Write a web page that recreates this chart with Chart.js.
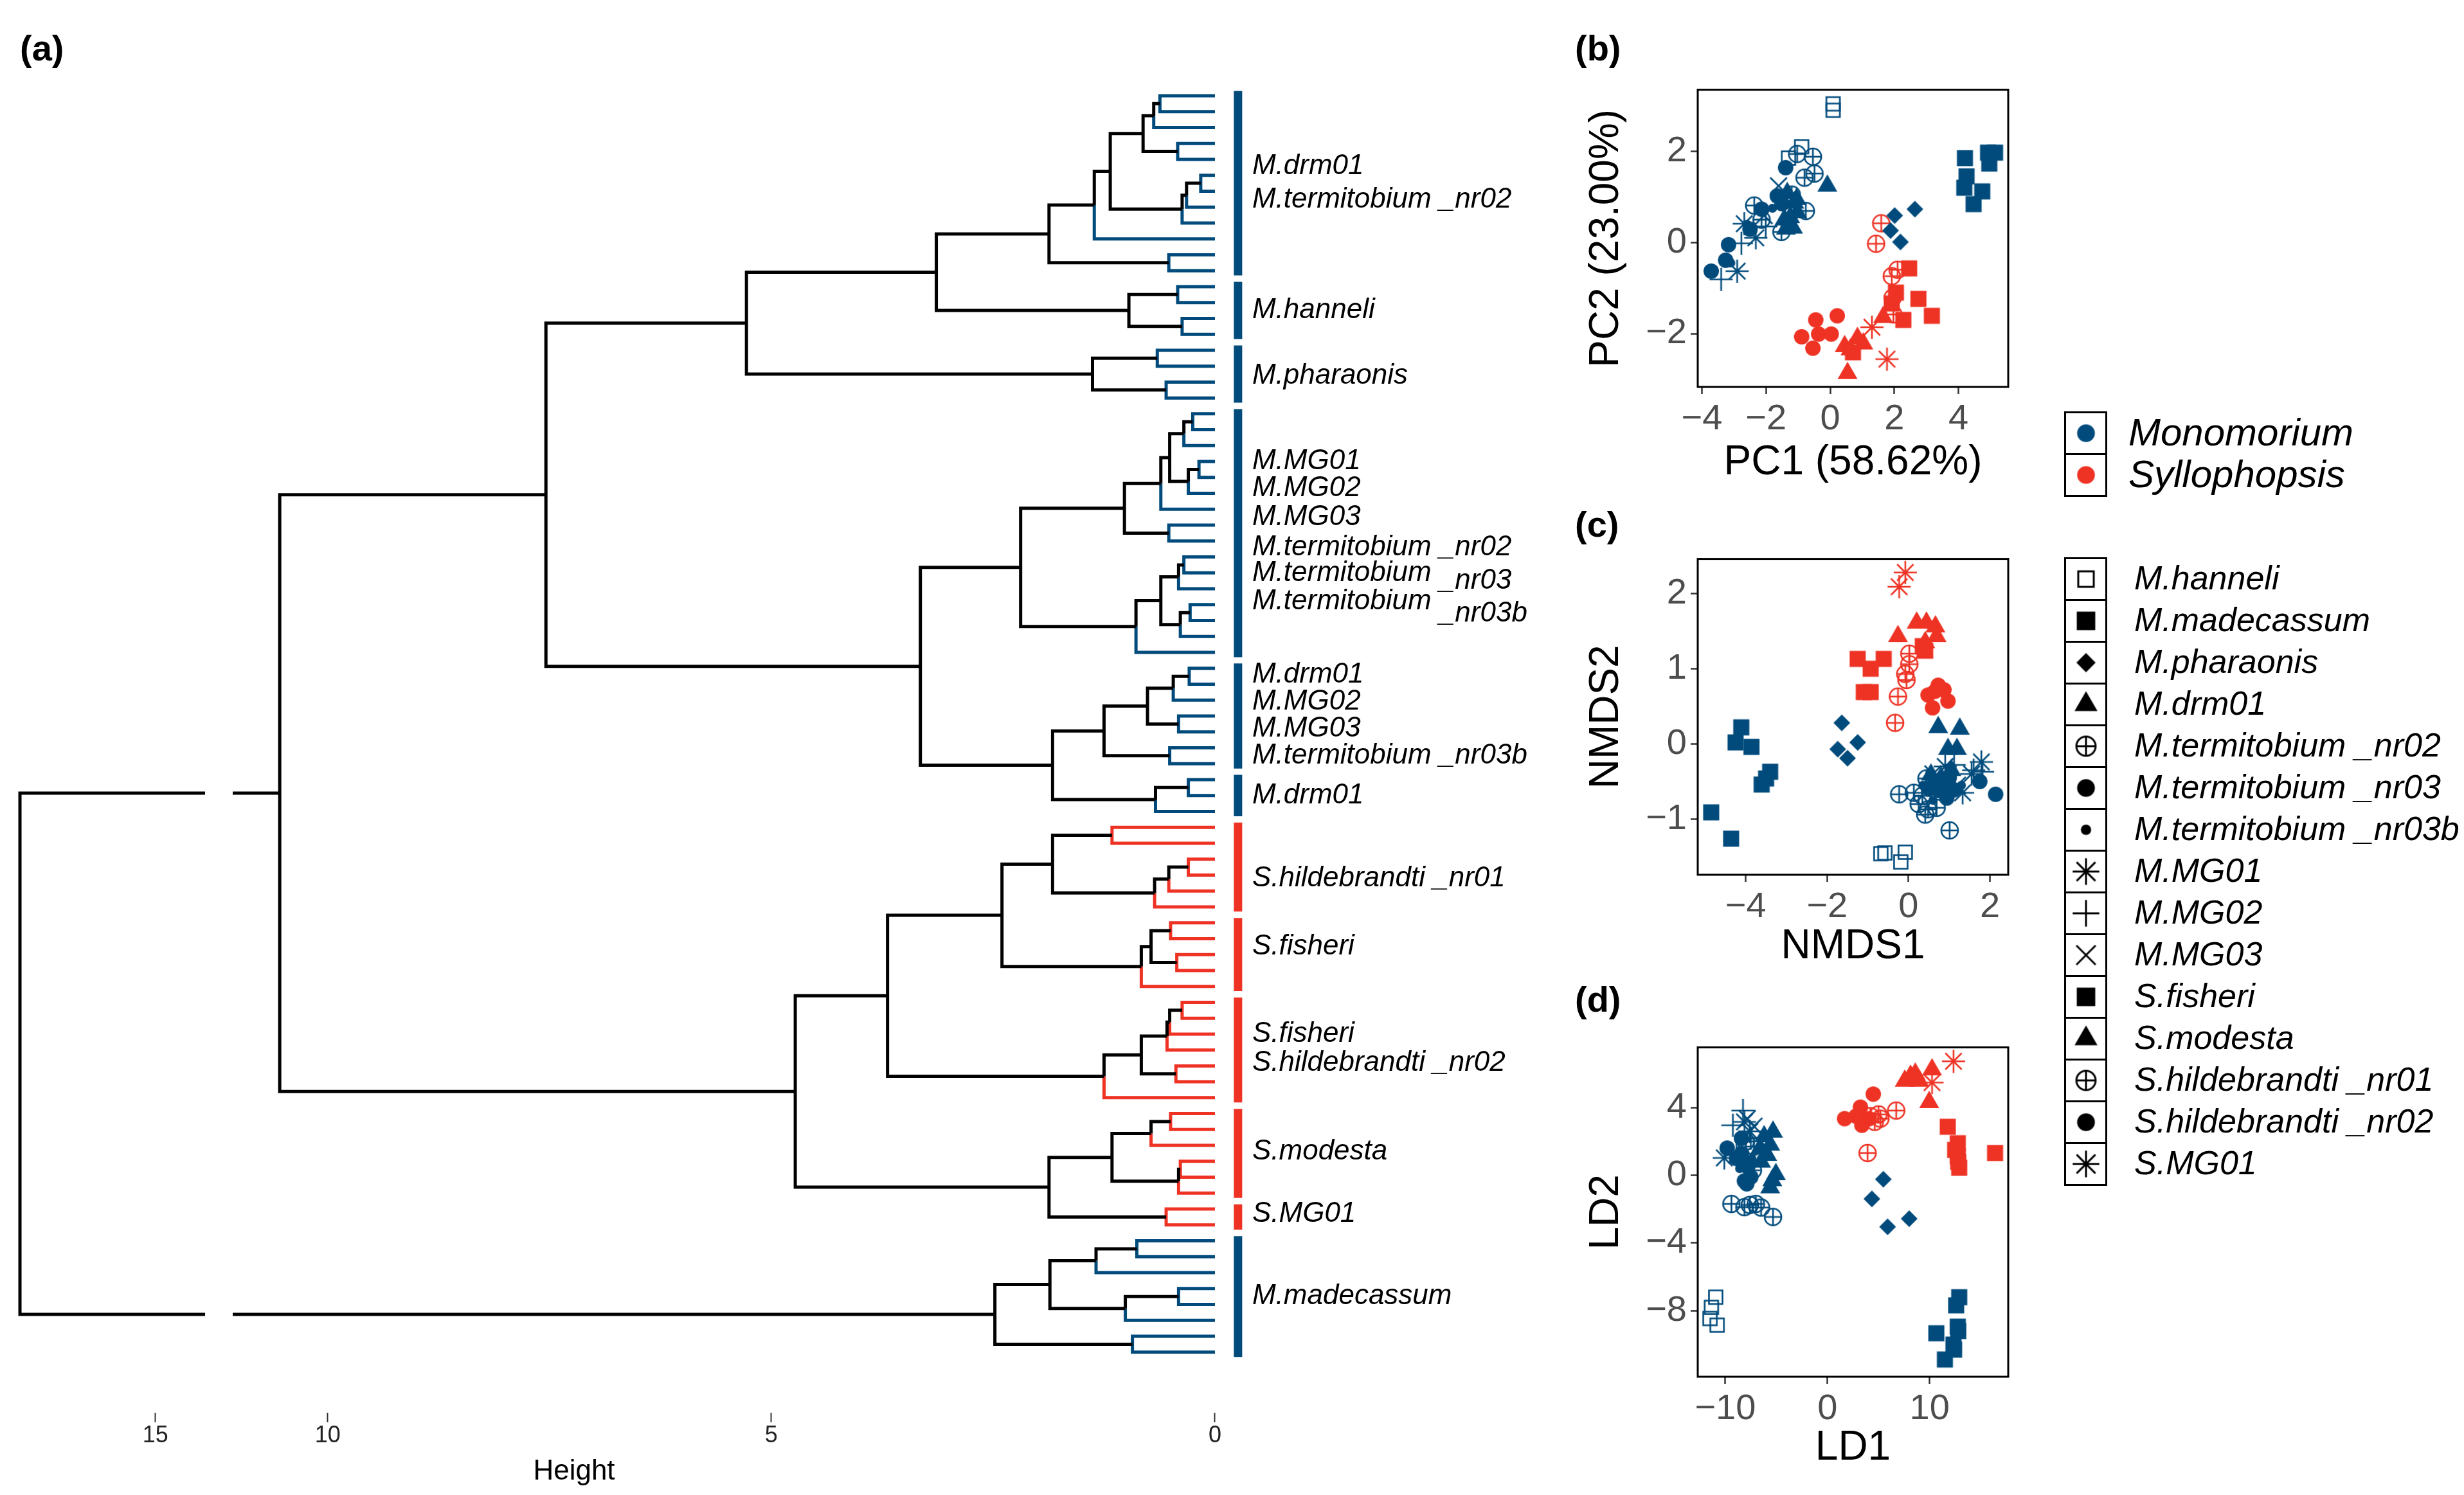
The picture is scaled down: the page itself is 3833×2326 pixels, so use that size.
<!DOCTYPE html>
<html>
<head>
<meta charset="utf-8">
<title>Monomorium / Syllophopsis</title>
<script src="https://cdn.jsdelivr.net/npm/chart.js@4.4.1/dist/chart.umd.min.js"></script>
<style>
  html, body { margin: 0; padding: 0; background: #fff; }
  body { position: relative; width: 3833px; height: 2326px; overflow: hidden; font-family: "Liberation Sans", Arial, sans-serif; color: #000; }
  canvas { position: absolute; }
  .tag { position: absolute; font-weight: bold; font-size: 56px; line-height: 56px; }
  .key { position: absolute; width: 67px; height: 68px; box-sizing: border-box; border: 3px solid #000; background: #fff; }
  .key canvas { left: 50%; top: 50%; transform: translate(-50%, -50%); }
  .lab { position: absolute; font-style: italic; white-space: pre; line-height: 65px; }
  #heightTitle { position: absolute; left: 793px; top: 2262px; width: 200px; text-align: center; font-size: 44px; line-height: 50px; }
</style>
</head>
<body>
<div class="tag" style="left:31px;top:47px">(a)</div>
<div class="tag" style="left:2450px;top:47px">(b)</div>
<div class="tag" style="left:2450px;top:788px">(c)</div>
<div class="tag" style="left:2450px;top:1527px">(d)</div>

<canvas id="dendro" width="2440" height="2326" style="left:0;top:0"></canvas>
<canvas id="pca" width="720" height="680" style="left:2440px;top:100px"></canvas>
<canvas id="nmds" width="720" height="700" style="left:2440px;top:830px"></canvas>
<canvas id="lda" width="720" height="736" style="left:2440px;top:1590px"></canvas>
<div id="heightTitle">Height</div>

<script>
// ---------------- species / groups ----------------
const speciesNames = ['M.hanneli', 'M.madecassum', 'M.pharaonis', 'M.drm01', 'M.termitobium _nr02',
  'M.termitobium _nr03', 'M.termitobium _nr03b', 'M.MG01', 'M.MG02', 'M.MG03', 'S.fisheri', 'S.modesta',
  'S.hildebrandti _nr01', 'S.hildebrandti _nr02', 'S.MG01'];
const speciesGenus = ['M', 'M', 'M', 'M', 'M', 'M', 'M', 'M', 'M', 'M', 'S', 'S', 'S', 'S', 'S'];
const genusKeys = ['M', 'S'];
const genusNames = ['Monomorium', 'Syllophopsis'];

// ---------------- (a) dendrogram, hclust style merge table ----------------
// negative = leaf number (1-based, in plotted order top to bottom), positive = earlier merge row
const mergeA = [-1, 1, -4, 2, -6, 5, 6, 4, 8, -11, 9, -13, -15, 12, -17, -19, 15, 11, 18,
  -21, 20, -24, 22, 21, 24, -28, 25, -30, 28, -33, 30, 29, 32, 27,
  -37, 35, -40, 36, -42, 38, -44, 41, 40, 34, 19,
  -47, -49, 47, 48, 46, -53, -55, 51, 53, 50, -58, 56, 57, -62, 58, 60, 55,
  -65, 63, -68, 65, 64, -71, 67, 62, 45,
  -73, 72, -76, 74, 73, -79, 76, 71];
const mergeB = [-2, -3, -5, 3, -7, -8, -9, 7, -10, -12, 10, -14, -16, 13, -18, -20, 16, 14, 17,
  -22, -23, -25, -26, 23, -27, -29, 26, -31, -32, -34, -35, 31, -36, 33,
  -38, -39, -41, 37, -43, 39, -45, -46, 42, 43, 44,
  -48, -50, -51, -52, 49, -54, -56, 52, -57, 54, -59, -60, -61, -63, 59, -64, 61,
  -66, -67, -69, -70, 66, -72, 68, 69, 70,
  -74, -75, -77, -78, 75, -80, 77, 78];
const mergeHeight = [0.62, 0.69, 0.42, 0.81, 0.16, 0.32, 0.37, 1.18, 1.36, 0.52, 1.87, 0.42, 0.37, 0.97,
  0.65, 0.55, 1.38, 3.14, 5.28,
  0.25, 0.35, 0.18, 0.30, 0.51, 0.61, 0.52, 1.02, 0.35, 0.41, 0.28, 0.39, 0.61, 0.89, 2.19,
  0.29, 0.47, 0.41, 0.76, 0.51, 1.25, 0.30, 0.67, 1.83, 3.32, 7.54,
  1.16, 0.30, 0.52, 0.68, 1.83, 0.50, 0.43, 0.72, 0.83, 2.40, 0.37, 0.51, 0.54, 0.44, 0.83, 1.25, 3.69,
  0.50, 0.72, 0.39, 0.41, 1.16, 0.55, 1.87, 4.73, 10.54,
  0.88, 1.34, 0.41, 1.01, 1.86, 0.93, 2.48, 16.53];
const leafGenus = 'M'.repeat(46) + 'S'.repeat(26) + 'M'.repeat(8);

// clades marked by the coloured bars (first / last leaf, 0-based)
const cladeFirstLeaf = [0, 12, 16, 20, 36, 43, 46, 52, 57, 64, 70, 72];
const cladeLastLeaf = [11, 15, 19, 35, 42, 45, 51, 56, 63, 69, 71, 79];

// clade labels and the leaf position they sit at
const cladeLabels = ['M.drm01', 'M.termitobium _nr02', 'M.hanneli', 'M.pharaonis',
  'M.MG01', 'M.MG02', 'M.MG03', 'M.termitobium _nr02', 'M.termitobium _nr03', 'M.termitobium _nr03b',
  'M.drm01', 'M.MG02', 'M.MG03', 'M.termitobium _nr03b', 'M.drm01',
  'S.hildebrandti _nr01', 'S.fisheri', 'S.fisheri', 'S.hildebrandti _nr02', 'S.modesta', 'S.MG01', 'M.madecassum'];
const cladeLabelAt = [4.44, 6.53, 13.5, 17.6, 23.0, 24.7, 26.5, 28.4, 30.0, 31.8,
  36.4, 38.1, 39.8, 41.5, 44.0, 49.2, 53.5, 59.0, 60.8, 66.4, 70.3, 75.5];
const suffixDrop = [0, 0, 0, 0, 0, 0, 0, 0, 0.5, 0.75, 0, 0, 0, 0, 0, 0, 0, 0, 0, 0, 0, 0];

// broken height axis
const heightTicksLeft = [15];
const heightTicksRight = [10, 5, 0];
const heightBreak = [11.07, 14.44];
const heightLeftMax = 16.61;
const heightRightMin = -3.84;
const leafAxisMin = -1.98;
const leafAxisMax = 82.8;

// ---------------- (b) PCA: [species, PC1, PC2] ----------------
const pcaPoints = [
  [0, 0.09, 3.04], [0, 0.09, 2.90], [0, -0.89, 2.10], [0, -1.30, 1.85],
  [1, 4.20, 1.85], [1, 4.25, 1.45], [1, 4.18, 1.20], [1, 4.74, 1.12], [1, 4.47, 0.84], [1, 4.92, 1.97], [1, 5.14, 1.97], [1, 4.96, 1.73],
  [2, 2.01, 0.59], [2, 2.64, 0.73], [2, 1.88, 0.26], [2, 2.19, 0.01],
  [3, -0.09, 1.24], [3, -1.34, 1.08], [3, -1.12, 0.87], [3, -1.03, 0.66], [3, -1.43, 0.50], [3, -1.16, 0.32], [3, -1.25, 0.55], [3, -1.05, 0.95], [3, -1.38, 0.30],
  [4, -1.03, 1.94], [4, -0.54, 1.88], [4, -0.49, 1.51], [4, -0.80, 1.42], [4, -2.37, 0.81], [4, -2.14, 0.50], [4, -0.76, 0.69], [4, -1.52, 0.23], [4, -1.20, 1.05],
  [5, -1.39, 1.64], [5, -1.65, 1.02], [5, -2.14, 0.73], [5, -2.50, 0.29], [5, -3.17, -0.05], [5, -3.26, -0.39], [5, -3.71, -0.63], [5, -1.50, 0.85],
  [6, -1.80, 0.75], [6, -2.60, 0.40], [6, -3.10, -0.45],
  [7, -2.68, 0.41], [7, -2.32, 0.10], [7, -2.90, -0.63], [7, -1.45, 0.90],
  [8, -3.40, -0.81], [8, -2.77, -0.02], [8, -2.01, 0.35],
  [9, -1.61, 1.24], [9, -2.06, 0.59],
  [10, 2.46, -0.57], [10, 2.75, -1.24], [10, 3.17, -1.61], [10, 2.28, -1.70], [10, 1.92, -1.34], [10, 0.71, -2.41], [10, 2.05, -1.10],
  [11, 0.54, -2.87], [11, 0.85, -2.10], [11, 0.45, -2.28], [11, 0.63, -2.35], [11, 1.65, -1.64], [11, 1.03, -2.22],
  [12, 1.59, 0.42], [12, 1.43, -0.03], [12, 1.92, -0.74], [12, 2.10, -0.60], [12, 1.95, -1.21], [12, 1.97, -1.58],
  [13, 0.22, -1.61], [13, -0.45, -1.70], [13, -0.89, -2.07], [13, -0.36, -2.01], [13, 0.03, -2.01], [13, -0.54, -2.32],
  [14, 1.30, -1.86], [14, 1.77, -2.56]
];
const pcaXTicks = [-4, -2, 0, 2, 4];
const pcaYTicks = [-2, 0, 2];

// ---------------- (c) NMDS: [species, NMDS1, NMDS2] ----------------
const nmdsPoints = [
  [0, -0.68, -1.46], [0, -0.58, -1.45], [0, -0.08, -1.44], [0, -0.19, -1.57],
  [1, -4.11, 0.22], [1, -4.25, 0.02], [1, -3.86, -0.04], [1, -3.40, -0.37], [1, -3.50, -0.46], [1, -3.61, -0.54], [1, -4.85, -0.91], [1, -4.36, -1.26],
  [2, -1.64, 0.28], [2, -1.25, 0.02], [2, -1.74, -0.07], [2, -1.50, -0.19],
  [3, 0.73, 0.22], [3, 1.26, 0.20], [3, 0.97, -0.07], [3, 1.19, -0.07], [3, 0.55, -0.41], [3, 0.62, -0.50], [3, 0.90, -0.55], [3, 1.05, -0.35], [3, 0.80, -0.45],
  [4, -0.23, -0.67], [4, 0.13, -0.65], [4, 0.44, -0.46], [4, 0.34, -0.69], [4, 0.48, -0.87], [4, 0.41, -0.94], [4, 0.69, -0.85], [4, 1.01, -1.15], [4, 0.25, -0.80],
  [5, 0.87, -0.52], [5, 1.75, -0.50], [5, 2.14, -0.67], [5, 0.94, -0.72], [5, 1.12, -0.61], [5, 0.50, -0.60], [5, 1.00, -0.45], [5, 0.75, -0.62],
  [6, 0.60, -0.75], [6, 1.30, -0.55], [6, 0.35, -0.55],
  [7, 1.79, -0.24], [7, 1.33, -0.65], [7, 1.55, -0.40], [7, 0.90, -0.30],
  [8, 1.12, -0.28], [8, 1.82, -0.37], [8, 1.60, -0.35],
  [9, 1.20, -0.55], [9, 0.60, -0.40],
  [10, -1.25, 1.13], [10, -0.61, 1.13], [10, -0.93, 1.00], [10, -0.93, 0.69], [10, -1.10, 0.69], [10, 0.41, 1.24], [10, 0.35, 1.30],
  [11, -0.26, 1.43], [11, 0.20, 1.61], [11, 0.44, 1.61], [11, 0.66, 1.56], [11, 0.69, 1.43], [11, 0.41, 1.35],
  [12, 0.02, 1.20], [12, 0.02, 1.06], [12, -0.08, 0.93], [12, -0.05, 0.85], [12, -0.26, 0.63], [12, -0.33, 0.28],
  [13, 0.48, 0.65], [13, 0.73, 0.78], [13, 0.87, 0.72], [13, 0.97, 0.57], [13, 0.59, 0.48], [13, 0.65, 0.70],
  [14, -0.08, 2.28], [14, -0.23, 2.09]
];
const nmdsXTicks = [-4, -2, 0, 2];
const nmdsYTicks = [-1, 0, 1, 2];

// ---------------- (d) LDA: [species, LD1, LD2] ----------------
const ldaPoints = [
  [0, -10.94, -7.20], [0, -11.36, -7.80], [0, -11.50, -8.46], [0, -10.80, -8.85],
  [1, 12.90, -7.20], [1, 12.60, -7.68], [1, 12.76, -8.94], [1, 10.66, -9.33], [1, 12.34, -10.00], [1, 11.50, -10.88], [1, 12.80, -9.20], [1, 12.40, -10.30],
  [2, 5.47, -0.23], [2, 4.35, -1.39], [2, 5.89, -3.04], [2, 8.00, -2.56],
  [3, -5.33, 2.57], [3, -5.60, 1.80], [3, -5.05, 0.06], [3, -5.61, -0.72], [3, -6.20, 2.30], [3, -5.90, 1.20], [3, -6.50, 0.80], [3, -5.40, -0.30], [3, -6.60, 1.60],
  [4, -9.40, -1.69], [4, -8.13, -1.88], [4, -7.01, -1.69], [4, -5.33, -2.46], [4, -7.60, -1.75], [4, -6.50, -1.90], [4, -7.30, 0.30], [4, -8.00, 2.00], [4, -7.20, 1.70],
  [5, -9.82, 1.61], [5, -8.42, 2.19], [5, -8.13, -0.33], [5, -7.80, 0.50], [5, -8.40, 1.30], [5, -7.50, -0.10], [5, -8.90, 1.00], [5, -7.90, -0.50],
  [6, -8.00, 0.90], [6, -7.40, 1.00], [6, -8.60, 0.40],
  [7, -10.10, 1.03], [7, -8.13, 3.16], [7, -7.60, 2.60], [7, -8.90, 1.20],
  [8, -8.27, 3.83], [8, -9.26, 2.96], [8, -7.50, 2.20],
  [9, -7.85, 3.35], [9, -7.20, 2.90],
  [10, 11.78, 2.87], [10, 12.76, 1.90], [10, 12.76, 1.12], [10, 12.90, 0.45], [10, 16.41, 1.32], [10, 12.50, 1.50], [10, 12.80, 0.80],
  [11, 8.13, 5.87], [11, 10.24, 6.25], [11, 9.96, 4.32], [11, 7.57, 5.58], [11, 8.98, 5.58], [11, 8.60, 6.00],
  [12, 6.73, 3.83], [12, 5.19, 3.35], [12, 4.63, 3.16], [12, 4.20, 3.50], [12, 3.93, 1.32], [12, 5.00, 3.60],
  [13, 4.49, 4.80], [13, 3.23, 4.03], [13, 1.68, 3.35], [13, 3.37, 2.96], [13, 4.07, 3.35], [13, 2.80, 3.50],
  [14, 12.34, 6.74], [14, 10.24, 5.48]
];
const ldaXTicks = [-10, 0, 10];
const ldaYTicks = [-8, -4, 0, 4];

// ---------------- styles ----------------
const genusColors = { M: '#004b7c', S: '#ee3224' };
const speciesShape = ['openSquare', 'square', 'diamond', 'triangle', 'circlePlus', 'circle', 'dot',
  'asterisk', 'plus', 'cross', 'square', 'triangle', 'circlePlus', 'circle', 'asterisk'];
const FONT = '"Liberation Sans", Arial, sans-serif';
Chart.defaults.font.family = FONT;

// ggplot-like point symbols drawn into small canvases, used as pointStyle
function makeSymbol(shape, color, k) {
  const size = Math.ceil(46 * k);
  const c = document.createElement('canvas');
  c.width = c.height = size;
  const g = c.getContext('2d');
  const m = size / 2;
  g.fillStyle = color;
  g.strokeStyle = color;
  g.lineWidth = 2.6 * k;
  const line = (x1, y1, x2, y2) => { g.beginPath(); g.moveTo(m + x1, m + y1); g.lineTo(m + x2, m + y2); g.stroke(); };
  if (shape === 'openSquare') {
    const s = 21 * k; g.strokeRect(m - s / 2, m - s / 2, s, s);
  } else if (shape === 'square') {
    const s = 25 * k; g.fillRect(m - s / 2, m - s / 2, s, s);
  } else if (shape === 'diamond') {
    const r = 13 * k;
    g.beginPath(); g.moveTo(m, m - r); g.lineTo(m + r, m); g.lineTo(m, m + r); g.lineTo(m - r, m); g.closePath(); g.fill();
  } else if (shape === 'triangle') {
    const s = 31 * k, h = s * 0.866;
    g.beginPath(); g.moveTo(m, m - h * 2 / 3); g.lineTo(m + s / 2, m + h / 3); g.lineTo(m - s / 2, m + h / 3); g.closePath(); g.fill();
  } else if (shape === 'circle') {
    g.beginPath(); g.arc(m, m, 12 * k, 0, 2 * Math.PI); g.fill();
  } else if (shape === 'dot') {
    g.beginPath(); g.arc(m, m, 7 * k, 0, 2 * Math.PI); g.fill();
  } else if (shape === 'circlePlus') {
    const r = 13 * k;
    g.beginPath(); g.arc(m, m, r, 0, 2 * Math.PI); g.stroke();
    line(-r, 0, r, 0); line(0, -r, 0, r);
  } else if (shape === 'asterisk') {
    const r = 18 * k, d = r * 0.7071;
    line(-r, 0, r, 0); line(0, -r, 0, r); line(-d, -d, d, d); line(-d, d, d, -d);
  } else if (shape === 'plus') {
    const r = 18 * k;
    line(-r, 0, r, 0); line(0, -r, 0, r);
  } else if (shape === 'cross') {
    const d = 13 * k;
    line(-d, -d, d, d); line(-d, d, d, -d);
  }
  return c;
}

// ---------------- (a) build the dendrogram paths ----------------
const nodeY = [];
const paths = { black: [], blackLeft: [], M: [], S: [] };
const GAP = { x: null, y: null };

function childOf(r) {
  return r < 0 ? { y: -r - 1, h: 0, leaf: -r - 1 } : { y: nodeY[r - 1], h: mergeHeight[r - 1], leaf: -1 };
}
function addEdge(hp, yp, c) {
  const key = c.leaf >= 0 ? leafGenus[c.leaf] : 'black';
  if (hp > heightBreak[1] && c.h < heightBreak[0]) {
    paths.blackLeft.push({ x: hp, y: yp }, { x: hp, y: c.y }, { x: heightBreak[1], y: c.y }, GAP);
    paths[key].push({ x: heightBreak[0], y: c.y }, { x: c.h, y: c.y }, GAP);
  } else {
    paths[key].push({ x: hp, y: yp }, { x: hp, y: c.y }, { x: c.h, y: c.y }, GAP);
  }
}
mergeA.forEach((a, i) => {
  const A = childOf(a), B = childOf(mergeB[i]);
  nodeY[i] = (A.y + B.y) / 2;
  addEdge(mergeHeight[i], nodeY[i], A);
  addEdge(mergeHeight[i], nodeY[i], B);
});

const barX = -0.26, barOverhang = 0.3, labelX = -0.42;
const bars = { M: [], S: [] };
cladeFirstLeaf.forEach((f, i) => {
  bars[leafGenus[f]].push({ x: barX, y: f - barOverhang }, { x: barX, y: cladeLastLeaf[i] + barOverhang }, GAP);
});

function pathSet(data, color, axis, width) {
  return {
    data, xAxisID: axis, yAxisID: 'y', showLine: true, spanGaps: false,
    borderColor: color, borderWidth: width, pointRadius: 0, tension: 0,
    borderJoinStyle: 'miter', borderCapStyle: 'butt'
  };
}

function heightAxis(weight, stackWeight, min, max, ticks) {
  return {
    type: 'linear', axis: 'x', position: 'bottom', stack: 'height', stackWeight, weight,
    reverse: true, min, max,
    afterBuildTicks: s => { s.ticks = ticks.map(v => ({ value: v })); },
    grid: { display: true, drawOnChartArea: false, drawTicks: true, tickLength: 15, tickWidth: 2, tickColor: '#333' },
    border: { display: false },
    ticks: { font: { size: 36 }, color: '#222', padding: 0, autoSkip: false, maxRotation: 0 }
  };
}

const cladeLabelPlugin = {
  id: 'cladeLabels',
  afterDatasetsDraw(chart) {
    const ctx = chart.ctx, xs = chart.scales.xR, ys = chart.scales.y;
    const x0 = xs.getPixelForValue(labelX);
    ctx.save();
    ctx.font = 'italic 44px ' + FONT;
    ctx.fillStyle = '#000';
    ctx.textAlign = 'left';
    ctx.textBaseline = 'middle';
    cladeLabels.forEach((t, i) => {
      const y = ys.getPixelForValue(cladeLabelAt[i]);
      const cut = t.indexOf(' _');
      if (cut < 0 || !suffixDrop[i]) { ctx.fillText(t, x0, y); return; }
      const head = t.slice(0, cut + 1);
      ctx.fillText(head, x0, y);
      ctx.fillText(t.slice(cut + 1), x0 + ctx.measureText(head).width,
        ys.getPixelForValue(cladeLabelAt[i] + suffixDrop[i]));
    });
    ctx.restore();
  }
};

new Chart(document.getElementById('dendro'), {
  type: 'scatter',
  data: {
    datasets: [
      pathSet(paths.black, '#000', 'xR', 5),
      pathSet(paths.blackLeft, '#000', 'xL', 5),
      pathSet(paths.M, genusColors.M, 'xR', 5),
      pathSet(paths.S, genusColors.S, 'xR', 5),
      pathSet(bars.M, genusColors.M, 'xR', 13),
      pathSet(bars.S, genusColors.S, 'xR', 13)
    ]
  },
  options: {
    responsive: false, animation: false, devicePixelRatio: 1, events: [],
    layout: { padding: { left: 20, right: 20, top: 100, bottom: 70 } },
    plugins: { legend: { display: false }, tooltip: { enabled: false } },
    scales: {
      xL: heightAxis(0, 299, heightBreak[1], heightLeftMax, heightTicksLeft),
      xGap: {
        type: 'linear', axis: 'x', position: 'bottom', stack: 'height', stackWeight: 43, weight: 1,
        grid: { display: false }, ticks: { display: false }, border: { display: false }
      },
      xR: heightAxis(2, 2058, heightRightMin, heightBreak[0], heightTicksRight),
      y: { type: 'linear', display: false, reverse: true, min: leafAxisMin, max: leafAxisMax }
    }
  },
  plugins: [cladeLabelPlugin]
});

// ---------------- (b)-(d) ordination panels ----------------
const pointSymbols = speciesShape.map((s, i) => makeSymbol(s, genusColors[speciesGenus[i]], 1));
const minus = v => String(v).replace('-', '\u2212');

const panelBox = {
  id: 'panelBox',
  afterDatasetsDraw(chart) {
    const { ctx, chartArea: a } = chart;
    ctx.save();
    ctx.strokeStyle = '#000';
    ctx.lineWidth = 3;
    ctx.strokeRect(a.left, a.top, a.right - a.left, a.bottom - a.top);
    ctx.restore();
  }
};

function axisOpts(min, max, ticks, title, titlePad, fit) {
  return {
    type: 'linear', min, max,
    afterBuildTicks: s => { s.ticks = ticks.map(v => ({ value: v })); },
    afterFit: fit,
    grid: { display: true, drawOnChartArea: false, drawTicks: true, tickLength: 11, tickWidth: 2.5, tickColor: '#333' },
    border: { display: false },
    ticks: { font: { size: 56 }, color: '#4d4d4d', padding: 6, autoSkip: false, maxRotation: 0, callback: minus },
    title: { display: true, text: title, font: { size: 64 }, color: '#000', padding: titlePad }
  };
}

function scatterPanel(id, points, c) {
  const cv = document.getElementById(id);
  const W = cv.width, H = cv.height;
  const datasets = speciesNames.map((name, s) => ({
    label: name,
    data: points.filter(p => p[0] === s).map(p => ({ x: p[1], y: p[2] })),
    pointStyle: pointSymbols[s],
    pointRadius: 12
  }));
  return new Chart(cv, {
    type: 'scatter',
    data: { datasets },
    options: {
      responsive: false, animation: false, devicePixelRatio: 1, events: [],
      layout: { padding: { left: 0, top: c.top, right: W - c.right, bottom: 0 } },
      plugins: { legend: { display: false }, tooltip: { enabled: false } },
      scales: {
        x: axisOpts(c.x[0], c.x[1], c.xTicks, c.xTitle, { top: 0, bottom: c.xTitlePad },
          s => { s.height = H - c.bottom; }),
        y: axisOpts(c.y[0], c.y[1], c.yTicks, c.yTitle, { top: 20.6, bottom: 0 },
          s => { s.width = c.left; })
      }
    },
    plugins: [panelBox]
  });
}

scatterPanel('pca', pcaPoints, {
  left: 201, top: 27, right: 684, bottom: 502,
  x: [-4.13, 5.55], y: [-3.17, 3.35], xTicks: pcaXTicks, yTicks: pcaYTicks,
  xTitle: 'PC1 (58.62%)', yTitle: 'PC2 (23.00%)', xTitlePad: 21
});
scatterPanel('nmds', nmdsPoints, {
  left: 201, top: 24, right: 684, bottom: 531,
  x: [-5.18, 2.45], y: [-1.74, 2.46], xTicks: nmdsXTicks, yTicks: nmdsYTicks,
  xTitle: 'NMDS1', yTitle: 'NMDS2', xTitlePad: 18.6
});
scatterPanel('lda', ldaPoints, {
  left: 201, top: 22, right: 684, bottom: 552,
  x: [-12.7, 17.7], y: [-11.9, 7.56], xTicks: ldaXTicks, yTicks: ldaYTicks,
  xTitle: 'LD1', yTitle: 'LD2', xTitlePad: 34.6
});

// ---------------- legends ----------------
function legendRow(top, symbol, text, textLeft, size) {
  const key = document.createElement('div');
  key.className = 'key';
  key.style.left = '3211px';
  key.style.top = top + 'px';
  key.appendChild(symbol);
  document.body.appendChild(key);
  const lab = document.createElement('div');
  lab.className = 'lab';
  lab.style.left = textLeft + 'px';
  lab.style.top = top + 'px';
  lab.style.fontSize = size + 'px';
  lab.textContent = text;
  document.body.appendChild(lab);
}
genusNames.forEach((g, i) => legendRow(640 + 65 * i, makeSymbol('circle', genusColors[genusKeys[i]], 1.15), g, 3311, 60));
speciesNames.forEach((s, i) => legendRow(866.5 + 65 * i, makeSymbol(speciesShape[i], '#000', 1.15), s, 3320, 52));
</script>
</body>
</html>
